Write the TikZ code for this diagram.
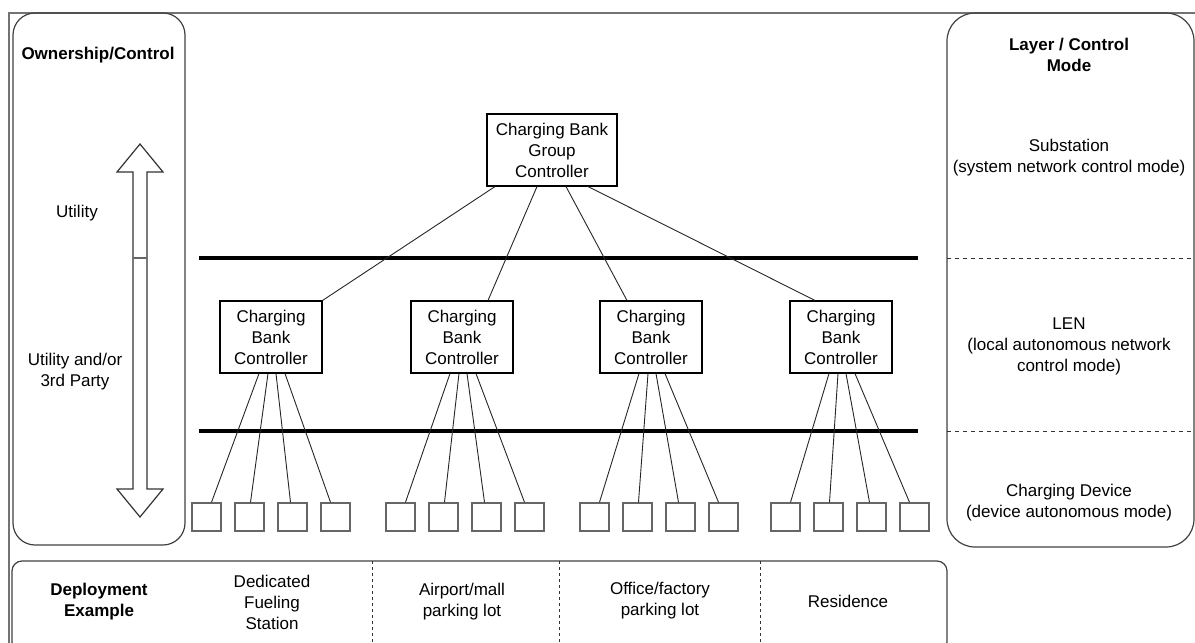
\documentclass[tikz,border=0pt]{standalone}
\usepackage{fontspec}
\setmainfont{Liberation Sans}
\usetikzlibrary{calc}
\begin{document}
\begin{tikzpicture}[x=1pt,y=-1pt,
  font=\fontsize{17}{21}\selectfont,
  frame/.style={draw=black!55, line width=1.6pt},
  panel/.style={draw=black!75, line width=1.2pt, rounded corners=22pt},
  ctrl/.style={draw=black, line width=1.1pt, align=center, inner sep=0pt, minimum width=102pt, minimum height=72pt},
  leaf/.style={draw=black!60, line width=1.5pt, minimum width=29pt, minimum height=28pt, inner sep=0pt},
  bus/.style={draw=black, line width=4pt},
  link/.style={draw=black!85, line width=0.9pt},
  sep/.style={draw=black!80, line width=0.9pt, dash pattern=on 4pt off 4pt},
  lbl/.style={align=center, inner sep=0pt},
  hdr/.style={align=center, inner sep=0pt, font=\fontsize{17}{21}\selectfont\bfseries},
  arrowshape/.style={draw=black!80, line width=1.2pt, fill=white, line join=miter}]
\useasboundingbox (0,0) rectangle (1195,643);

% outer frame
\draw[frame] (1195,13) -- (9,13) -- (9,643);

% left panel
\draw[panel] (13,13) rectangle (185,545);
\node[hdr] (own) at (98,55) {Ownership/Control};
\draw[arrowshape] (140,144) -- (163,172) -- (147,172) -- (147,489) -- (163,489) -- (140,517)
  -- (117,489) -- (133,489) -- (133,172) -- (117,172) -- cycle;
\draw[draw=black!60, line width=2pt] (133,258) -- (147,258);
\node[lbl] (util) at (77,213) {Utility};
\node[lbl] (util3) at (75,372) {Utility and/or\\3rd Party};

% right panel
\draw[panel, rounded corners=28pt] (947,13) rectangle (1194,547);
\draw[sep] (947,258) -- (1195,258);
\draw[sep] (947,431) -- (1195,431);
\node[hdr] (layer) at (1069,55) {Layer / Control\\Mode};
\node[lbl] (subst) at (1069,158) {Substation\\(system network control mode)};
\node[lbl] (len) at (1069,346) {LEN\\(local autonomous network\\control mode)};
\node[lbl] (cdev) at (1069,503) {Charging Device\\(device autonomous mode)};

% bottom panel
\draw[panel, rounded corners=10pt] (12,561) rectangle (947,652);
\draw[sep, dash pattern=on 3pt off 3pt] (372,561) -- (372,643);
\draw[sep, dash pattern=on 3pt off 3pt] (559,561) -- (559,643);
\draw[sep, dash pattern=on 3pt off 3pt] (760,561) -- (760,643);
\node[hdr] (dep) at (99,602) {Deployment\\Example};
\node[lbl] (ded) at (272,602) {Dedicated\\Fueling\\Station};
\node[lbl] (air) at (462,602) {Airport/mall\\parking lot};
\node[lbl] (off) at (660,601) {Office/factory\\parking lot};
\node[lbl] (res) at (848,601) {Residence};

% buses
\draw[bus] (199,258) -- (918,258);
\draw[bus] (199,431) -- (918,431);

% controllers
\node[ctrl, minimum width=130pt] (g) at (552,150) {Charging Bank\\Group\\Controller};
\node[ctrl] (b1) at (271,337) {Charging\\Bank\\Controller};
\node[ctrl] (b2) at (462,337) {Charging\\Bank\\Controller};
\node[ctrl] (b3) at (651,337) {Charging\\Bank\\Controller};
\node[ctrl] (b4) at (841,337) {Charging\\Bank\\Controller};

% group to bank links
\draw[link] ($(g.south)+(-57,0)$) -- (b1.north east);
\draw[link] ($(g.south)+(-15,0)$) -- ($(b2.north)+(26,0)$);
\draw[link] ($(g.south)+(14,0)$) -- ($(b3.north)+(-24,0)$);
\draw[link] ($(g.south)+(36,0)$) -- ($(b4.north)+(-26,0)$);

% leaves and links
\foreach \b/\c in {1/271,2/465,3/659,4/850}{
  \foreach \k/\dx/\so/\eo in {1/-64.5/-12/5,2/-21.5/-3/1,3/21.5/5/-2,4/64.5/14/-5}{
    \node[leaf] (l\b\k) at (\c+\dx,517) {};
    \draw[link] ($(b\b.south)+(\so,0)$) -- ($(l\b\k.north)+(\eo,0)$);
  }
}
\end{tikzpicture}
\end{document}
